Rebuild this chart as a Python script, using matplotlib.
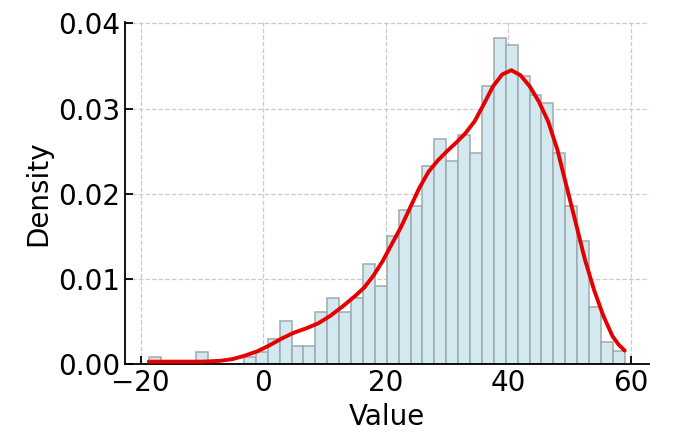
import matplotlib
matplotlib.use("Agg")
import matplotlib.pyplot as plt
import numpy as np

plt.rcParams['font.family'] = ['DejaVu Sans']
plt.rcParams['font.size'] = 20

# histogram: data range and bar heights (density)
x_min, x_max = -18.65, 59.0
heights = [0.0008, 0.0, 0.0, 0.0, 0.0014, 0.0, 0.0, 0.0, 0.0008, 0.0014,
           0.0030, 0.0051, 0.0021, 0.0021, 0.0061, 0.0078, 0.0061, 0.0078, 0.0118, 0.0092,
           0.0150, 0.0181, 0.0186, 0.0233, 0.0264, 0.0238, 0.0269, 0.0248, 0.0326, 0.0383,
           0.0374, 0.0338, 0.0316, 0.0306, 0.0248, 0.0186, 0.0145, 0.0067, 0.0026, 0.0015]

# density curve, points
kde_x = [-18.65, -14, -10, -7, -5, -3, -1, 1, 3, 5, 7, 9, 11, 13, 15, 16.5, 18,
         19.5, 21, 22.5, 24, 25.5, 27, 28.5, 30, 31.5, 33, 34.5, 36, 37.5, 39,
         40.5, 42, 43.5, 45, 46.5, 48, 49.5, 51, 52.5, 54, 55.5, 57, 58, 59.0]
kde_y = [0.0003, 0.0003, 0.0003, 0.0004, 0.0006, 0.0010, 0.0015, 0.0022, 0.0030,
         0.0037, 0.0042, 0.0048, 0.0057, 0.0068, 0.0080, 0.0090, 0.0104, 0.0121,
         0.0141, 0.0161, 0.0184, 0.0207, 0.0226, 0.0239, 0.0250, 0.0260, 0.0271,
         0.0285, 0.0305, 0.0326, 0.0340, 0.0345, 0.0339, 0.0326, 0.0308, 0.0285,
         0.0252, 0.0209, 0.0166, 0.0123, 0.0087, 0.0057, 0.0033, 0.0023, 0.0016]

edges = np.linspace(x_min, x_max, len(heights) + 1)

fig = plt.figure(figsize=(6.87, 4.48), dpi=100)
ax = fig.add_axes([0.182, 0.187, 0.762, 0.765])

ax.bar(edges[:-1], heights, width=np.diff(edges), align='edge',
       color='#d4e8ef', edgecolor='#9ea9ad', linewidth=1.1, zorder=2)
ax.plot(kde_x, kde_y, color='#e50000', linewidth=2.8, zorder=3,
        solid_capstyle='round', solid_joinstyle='round')

ax.set_xticks([-20, 0, 20, 40, 60])
ax.set_yticks([0.0, 0.01, 0.02, 0.03, 0.04])
ax.set_yticklabels(['0.00', '0.01', '0.02', '0.03', '0.04'])
ax.set_xlabel('Value')
ax.set_ylabel('Density')

ax.spines['top'].set_visible(False)
ax.spines['right'].set_visible(False)
for s in ['left', 'bottom']:
    ax.spines[s].set_linewidth(1.3)
ax.tick_params(direction='in', length=6, width=1.3)
ax.grid(True, linestyle='--', color='#cccccc', linewidth=0.9)
ax.set_axisbelow(True)

fig.savefig('out.png', dpi=100)
